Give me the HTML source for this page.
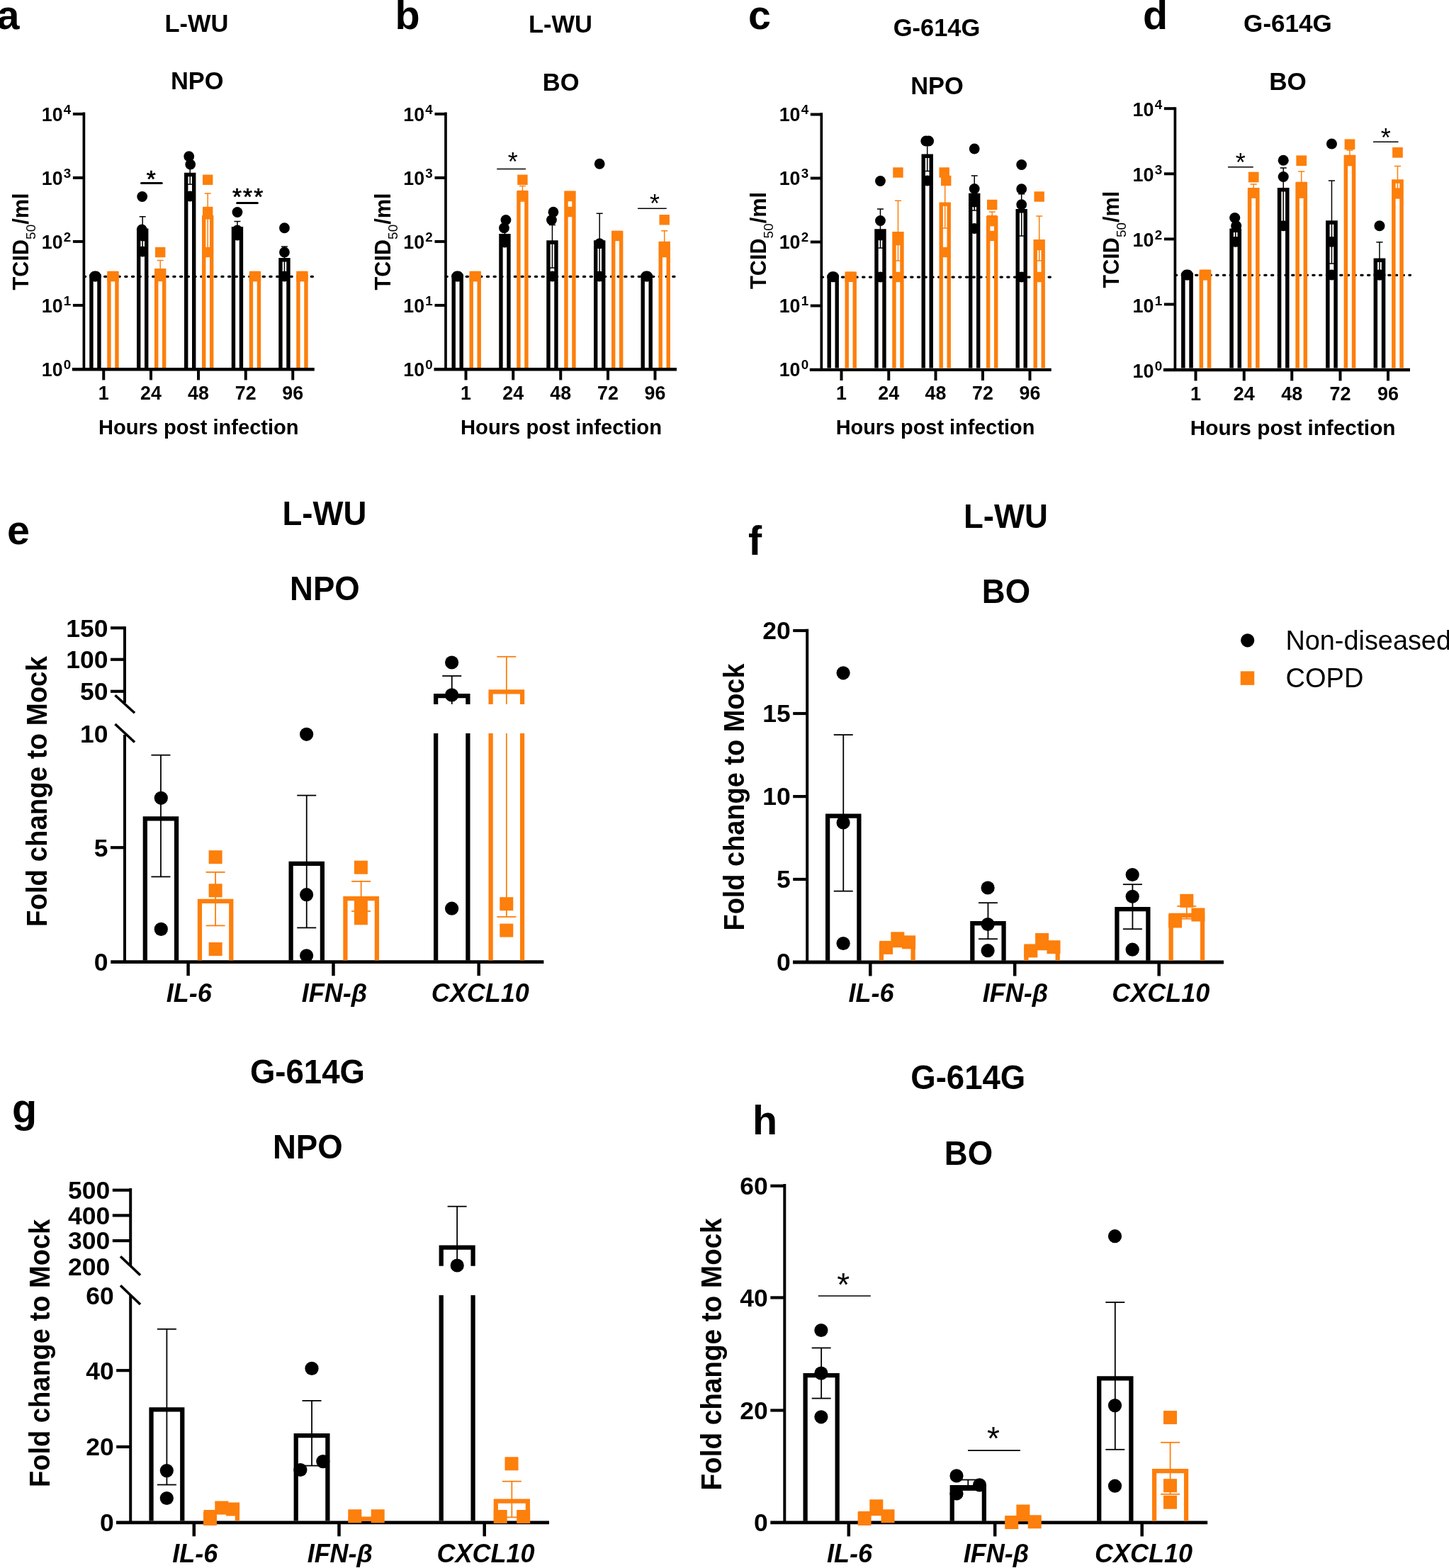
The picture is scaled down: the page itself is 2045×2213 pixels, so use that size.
<!DOCTYPE html>
<html lang="en"><head><meta charset="utf-8"><title>Figure</title>
<style>
html,body{margin:0;padding:0;background:#fff;}
body{width:2045px;height:2213px;overflow:hidden;}
svg{display:block;font-family:"Liberation Sans",sans-serif;fill:#000;}
</style></head><body>
<svg width="2045" height="2213" viewBox="0 0 2045 2213">
<rect x="0" y="0" width="2045" height="2213" fill="#fff"/>
<line x1="118.40" y1="390.30" x2="444.25" y2="390.30" stroke="#000" stroke-width="3.2" stroke-dasharray="2.3 7.42" stroke-linecap="round"/>
<line x1="118.40" y1="158.50" x2="118.40" y2="522.90" stroke="#000" stroke-width="3.7" />
<line x1="101.90" y1="521.30" x2="443.75" y2="521.30" stroke="#000" stroke-width="4.4" />
<line x1="102.90" y1="430.90" x2="118.40" y2="430.90" stroke="#000" stroke-width="4.0" />
<line x1="102.90" y1="340.90" x2="118.40" y2="340.90" stroke="#000" stroke-width="4.0" />
<line x1="102.90" y1="250.90" x2="118.40" y2="250.90" stroke="#000" stroke-width="4.0" />
<line x1="102.90" y1="160.90" x2="118.40" y2="160.90" stroke="#000" stroke-width="4.0" />
<line x1="146.25" y1="520.90" x2="146.25" y2="536.40" stroke="#000" stroke-width="4.0" />
<line x1="213.00" y1="520.90" x2="213.00" y2="536.40" stroke="#000" stroke-width="4.0" />
<line x1="280.00" y1="520.90" x2="280.00" y2="536.40" stroke="#000" stroke-width="4.0" />
<line x1="346.75" y1="520.90" x2="346.75" y2="536.40" stroke="#000" stroke-width="4.0" />
<line x1="413.25" y1="520.90" x2="413.25" y2="536.40" stroke="#000" stroke-width="4.0" />
<path d="M128.95 518.90V390.00H139.95V518.90" fill="none" stroke="#000" stroke-width="5.4" stroke-linejoin="miter"/>
<circle cx="133.45" cy="390.00" r="7.4" fill="#000"/>
<circle cx="135.45" cy="390.00" r="7.4" fill="#000"/>
<path d="M153.95 518.90V390.00H164.95V518.90" fill="none" stroke="#fd7f0c" stroke-width="5.4" stroke-linejoin="miter"/>
<rect x="151.25" y="382.80" width="14.40" height="14.40" fill="#fd7f0c"/>
<rect x="153.25" y="382.80" width="14.40" height="14.40" fill="#fd7f0c"/>
<path d="M195.70 518.90V325.20H206.70V518.90" fill="none" stroke="#000" stroke-width="5.4" stroke-linejoin="miter"/>
<line x1="201.20" y1="305.75" x2="201.20" y2="353.30" stroke="#000" stroke-width="1.5" />
<line x1="196.70" y1="305.75" x2="205.70" y2="305.75" stroke="#000" stroke-width="1.5" />
<line x1="196.70" y1="353.30" x2="205.70" y2="353.30" stroke="#000" stroke-width="1.5" />
<circle cx="201.20" cy="355.00" r="7.4" fill="#000"/>
<circle cx="201.70" cy="333.00" r="7.4" fill="#000"/>
<circle cx="200.20" cy="324.00" r="7.4" fill="#000"/>
<circle cx="200.70" cy="277.50" r="7.4" fill="#000"/>
<path d="M220.70 518.90V381.70H231.70V518.90" fill="none" stroke="#fd7f0c" stroke-width="5.4" stroke-linejoin="miter"/>
<line x1="226.20" y1="367.50" x2="226.20" y2="385.00" stroke="#fd7f0c" stroke-width="1.5" />
<line x1="221.70" y1="367.50" x2="230.70" y2="367.50" stroke="#fd7f0c" stroke-width="1.5" />
<line x1="221.70" y1="385.00" x2="230.70" y2="385.00" stroke="#fd7f0c" stroke-width="1.5" />
<rect x="219.00" y="382.80" width="14.40" height="14.40" fill="#fd7f0c"/>
<rect x="219.00" y="348.80" width="14.40" height="14.40" fill="#fd7f0c"/>
<path d="M262.70 518.90V246.45H273.70V518.90" fill="none" stroke="#000" stroke-width="5.4" stroke-linejoin="miter"/>
<line x1="268.20" y1="236.00" x2="268.20" y2="260.15" stroke="#000" stroke-width="1.5" />
<line x1="263.70" y1="236.00" x2="272.70" y2="236.00" stroke="#000" stroke-width="1.5" />
<line x1="263.70" y1="260.15" x2="272.70" y2="260.15" stroke="#000" stroke-width="1.5" />
<circle cx="268.20" cy="277.00" r="7.4" fill="#000"/>
<circle cx="268.70" cy="232.00" r="7.4" fill="#000"/>
<circle cx="266.70" cy="220.75" r="7.4" fill="#000"/>
<path d="M287.70 518.90V306.70H298.70V518.90" fill="none" stroke="#fd7f0c" stroke-width="5.4" stroke-linejoin="miter"/>
<line x1="293.20" y1="273.00" x2="293.20" y2="357.60" stroke="#fd7f0c" stroke-width="1.5" />
<line x1="288.70" y1="273.00" x2="297.70" y2="273.00" stroke="#fd7f0c" stroke-width="1.5" />
<line x1="288.70" y1="357.60" x2="297.70" y2="357.60" stroke="#fd7f0c" stroke-width="1.5" />
<rect x="286.00" y="348.80" width="14.40" height="14.40" fill="#fd7f0c"/>
<rect x="286.00" y="291.80" width="14.40" height="14.40" fill="#fd7f0c"/>
<rect x="286.00" y="246.55" width="14.40" height="14.40" fill="#fd7f0c"/>
<path d="M329.45 518.90V322.70H340.45V518.90" fill="none" stroke="#000" stroke-width="5.4" stroke-linejoin="miter"/>
<line x1="334.95" y1="312.50" x2="334.95" y2="336.00" stroke="#000" stroke-width="1.5" />
<line x1="330.45" y1="312.50" x2="339.45" y2="312.50" stroke="#000" stroke-width="1.5" />
<line x1="330.45" y1="336.00" x2="339.45" y2="336.00" stroke="#000" stroke-width="1.5" />
<circle cx="334.95" cy="332.00" r="7.4" fill="#000"/>
<circle cx="334.95" cy="325.00" r="7.4" fill="#000"/>
<circle cx="334.95" cy="299.50" r="7.4" fill="#000"/>
<path d="M354.45 518.90V390.00H365.45V518.90" fill="none" stroke="#fd7f0c" stroke-width="5.4" stroke-linejoin="miter"/>
<rect x="351.75" y="382.80" width="14.40" height="14.40" fill="#fd7f0c"/>
<rect x="353.75" y="382.80" width="14.40" height="14.40" fill="#fd7f0c"/>
<path d="M395.95 518.90V366.70H406.95V518.90" fill="none" stroke="#000" stroke-width="5.4" stroke-linejoin="miter"/>
<line x1="401.45" y1="348.00" x2="401.45" y2="393.60" stroke="#000" stroke-width="1.5" />
<line x1="396.95" y1="348.00" x2="405.95" y2="348.00" stroke="#000" stroke-width="1.5" />
<line x1="396.95" y1="393.60" x2="405.95" y2="393.60" stroke="#000" stroke-width="1.5" />
<circle cx="401.45" cy="390.00" r="7.4" fill="#000"/>
<circle cx="401.45" cy="356.00" r="7.4" fill="#000"/>
<circle cx="401.45" cy="321.75" r="7.4" fill="#000"/>
<path d="M420.95 518.90V390.00H431.95V518.90" fill="none" stroke="#fd7f0c" stroke-width="5.4" stroke-linejoin="miter"/>
<rect x="418.25" y="382.80" width="14.40" height="14.40" fill="#fd7f0c"/>
<rect x="420.25" y="382.80" width="14.40" height="14.40" fill="#fd7f0c"/>
<text x="100.20" y="530.50" font-size="26.8" text-anchor="end" font-weight="bold">10<tspan font-size="18.76" dx="1.2" dy="-9.80">0</tspan></text>
<text x="100.20" y="440.50" font-size="26.8" text-anchor="end" font-weight="bold">10<tspan font-size="18.76" dx="1.2" dy="-9.80">1</tspan></text>
<text x="100.20" y="350.50" font-size="26.8" text-anchor="end" font-weight="bold">10<tspan font-size="18.76" dx="1.2" dy="-9.80">2</tspan></text>
<text x="100.20" y="260.50" font-size="26.8" text-anchor="end" font-weight="bold">10<tspan font-size="18.76" dx="1.2" dy="-9.80">3</tspan></text>
<text x="100.20" y="170.50" font-size="26.8" text-anchor="end" font-weight="bold">10<tspan font-size="18.76" dx="1.2" dy="-9.80">4</tspan></text>
<text x="146.25" y="564.00" font-size="26.8" text-anchor="middle" font-weight="bold" font-style="normal" >1</text>
<text x="213.00" y="564.00" font-size="26.8" text-anchor="middle" font-weight="bold" font-style="normal" >24</text>
<text x="280.00" y="564.00" font-size="26.8" text-anchor="middle" font-weight="bold" font-style="normal" >48</text>
<text x="346.75" y="564.00" font-size="26.8" text-anchor="middle" font-weight="bold" font-style="normal" >72</text>
<text x="413.25" y="564.00" font-size="26.8" text-anchor="middle" font-weight="bold" font-style="normal" >96</text>
<text x="280.30" y="612.50" font-size="29.07" text-anchor="middle" font-weight="bold" font-style="normal" >Hours post infection</text>
<text transform="translate(40.00 409.50) rotate(-90)" font-size="30.7" font-weight="bold" text-anchor="start">TCID<tspan font-size="19.03" font-weight="normal" dy="10.13">50</tspan><tspan dy="-10.13">/ml</tspan></text>
<text transform="translate(277.50 45.00) scale(0.98 1)" font-size="35.2" text-anchor="middle" font-weight="bold">L-WU</text>
<text transform="translate(278.30 126.00) scale(0.98 1)" font-size="35.2" text-anchor="middle" font-weight="bold">NPO</text>
<text x="-4.50" y="41.00" font-size="57.5" text-anchor="start" font-weight="bold" font-style="normal" >a</text>
<line x1="199.50" y1="258.40" x2="228.30" y2="258.40" stroke="#000" stroke-width="3" stroke-linecap="round"/>
<text x="214.30" y="264.40" font-size="33.5" text-anchor="middle" font-weight="normal" font-style="normal" stroke="#000" stroke-width="0.7" letter-spacing="2.1">*</text>
<line x1="334.60" y1="286.60" x2="363.40" y2="286.60" stroke="#000" stroke-width="3" stroke-linecap="round"/>
<text x="350.60" y="289.30" font-size="33.5" text-anchor="middle" font-weight="normal" font-style="normal" stroke="#000" stroke-width="0.7" letter-spacing="2.1">***</text>
<line x1="629.00" y1="390.30" x2="955.50" y2="390.30" stroke="#000" stroke-width="3.2" stroke-dasharray="2.3 7.42" stroke-linecap="round"/>
<line x1="629.00" y1="158.50" x2="629.00" y2="522.90" stroke="#000" stroke-width="3.7" />
<line x1="612.50" y1="521.30" x2="955.00" y2="521.30" stroke="#000" stroke-width="4.4" />
<line x1="613.50" y1="430.90" x2="629.00" y2="430.90" stroke="#000" stroke-width="4.0" />
<line x1="613.50" y1="340.90" x2="629.00" y2="340.90" stroke="#000" stroke-width="4.0" />
<line x1="613.50" y1="250.90" x2="629.00" y2="250.90" stroke="#000" stroke-width="4.0" />
<line x1="613.50" y1="160.90" x2="629.00" y2="160.90" stroke="#000" stroke-width="4.0" />
<line x1="657.50" y1="520.90" x2="657.50" y2="536.40" stroke="#000" stroke-width="4.0" />
<line x1="724.25" y1="520.90" x2="724.25" y2="536.40" stroke="#000" stroke-width="4.0" />
<line x1="791.25" y1="520.90" x2="791.25" y2="536.40" stroke="#000" stroke-width="4.0" />
<line x1="858.00" y1="520.90" x2="858.00" y2="536.40" stroke="#000" stroke-width="4.0" />
<line x1="924.50" y1="520.90" x2="924.50" y2="536.40" stroke="#000" stroke-width="4.0" />
<path d="M640.20 518.90V390.00H651.20V518.90" fill="none" stroke="#000" stroke-width="5.4" stroke-linejoin="miter"/>
<circle cx="644.70" cy="390.00" r="7.4" fill="#000"/>
<circle cx="646.70" cy="390.00" r="7.4" fill="#000"/>
<path d="M665.20 518.90V390.00H676.20V518.90" fill="none" stroke="#fd7f0c" stroke-width="5.4" stroke-linejoin="miter"/>
<rect x="662.50" y="382.80" width="14.40" height="14.40" fill="#fd7f0c"/>
<rect x="664.50" y="382.80" width="14.40" height="14.40" fill="#fd7f0c"/>
<path d="M706.95 518.90V332.70H717.95V518.90" fill="none" stroke="#000" stroke-width="5.4" stroke-linejoin="miter"/>
<line x1="712.45" y1="322.00" x2="712.45" y2="346.80" stroke="#000" stroke-width="1.5" />
<line x1="707.95" y1="322.00" x2="716.95" y2="322.00" stroke="#000" stroke-width="1.5" />
<line x1="707.95" y1="346.80" x2="716.95" y2="346.80" stroke="#000" stroke-width="1.5" />
<circle cx="712.45" cy="342.00" r="7.4" fill="#000"/>
<circle cx="711.45" cy="321.75" r="7.4" fill="#000"/>
<circle cx="713.95" cy="310.50" r="7.4" fill="#000"/>
<path d="M731.95 518.90V271.95H742.95V518.90" fill="none" stroke="#fd7f0c" stroke-width="5.4" stroke-linejoin="miter"/>
<line x1="737.45" y1="262.50" x2="737.45" y2="284.05" stroke="#fd7f0c" stroke-width="1.5" />
<line x1="732.95" y1="262.50" x2="741.95" y2="262.50" stroke="#fd7f0c" stroke-width="1.5" />
<line x1="732.95" y1="284.05" x2="741.95" y2="284.05" stroke="#fd7f0c" stroke-width="1.5" />
<rect x="730.25" y="268.80" width="14.40" height="14.40" fill="#fd7f0c"/>
<rect x="730.25" y="246.55" width="14.40" height="14.40" fill="#fd7f0c"/>
<path d="M773.95 518.90V341.95H784.95V518.90" fill="none" stroke="#000" stroke-width="5.4" stroke-linejoin="miter"/>
<line x1="779.45" y1="317.50" x2="779.45" y2="378.05" stroke="#000" stroke-width="1.5" />
<line x1="774.95" y1="317.50" x2="783.95" y2="317.50" stroke="#000" stroke-width="1.5" />
<line x1="774.95" y1="378.05" x2="783.95" y2="378.05" stroke="#000" stroke-width="1.5" />
<circle cx="779.45" cy="390.00" r="7.4" fill="#000"/>
<circle cx="778.45" cy="310.50" r="7.4" fill="#000"/>
<circle cx="780.95" cy="299.25" r="7.4" fill="#000"/>
<path d="M798.95 518.90V272.20H809.95V518.90" fill="none" stroke="#fd7f0c" stroke-width="5.4" stroke-linejoin="miter"/>
<rect x="797.25" y="291.80" width="14.40" height="14.40" fill="#fd7f0c"/>
<rect x="797.25" y="269.80" width="14.40" height="14.40" fill="#fd7f0c"/>
<path d="M840.70 518.90V341.95H851.70V518.90" fill="none" stroke="#000" stroke-width="5.4" stroke-linejoin="miter"/>
<line x1="846.20" y1="301.25" x2="846.20" y2="384.00" stroke="#000" stroke-width="1.5" />
<line x1="841.70" y1="301.25" x2="850.70" y2="301.25" stroke="#000" stroke-width="1.5" />
<line x1="841.70" y1="384.00" x2="850.70" y2="384.00" stroke="#000" stroke-width="1.5" />
<circle cx="846.20" cy="390.00" r="7.4" fill="#000"/>
<circle cx="846.20" cy="343.75" r="7.4" fill="#000"/>
<circle cx="846.20" cy="231.25" r="7.4" fill="#000"/>
<path d="M865.70 518.90V328.45H876.70V518.90" fill="none" stroke="#fd7f0c" stroke-width="5.4" stroke-linejoin="miter"/>
<rect x="864.00" y="325.80" width="14.40" height="14.40" fill="#fd7f0c"/>
<path d="M907.20 518.90V390.00H918.20V518.90" fill="none" stroke="#000" stroke-width="5.4" stroke-linejoin="miter"/>
<circle cx="911.70" cy="390.00" r="7.4" fill="#000"/>
<circle cx="913.70" cy="390.00" r="7.4" fill="#000"/>
<path d="M932.20 518.90V343.45H943.20V518.90" fill="none" stroke="#fd7f0c" stroke-width="5.4" stroke-linejoin="miter"/>
<line x1="937.70" y1="325.75" x2="937.70" y2="352.00" stroke="#fd7f0c" stroke-width="1.5" />
<line x1="933.20" y1="325.75" x2="942.20" y2="325.75" stroke="#fd7f0c" stroke-width="1.5" />
<line x1="933.20" y1="352.00" x2="942.20" y2="352.00" stroke="#fd7f0c" stroke-width="1.5" />
<rect x="930.50" y="348.80" width="14.40" height="14.40" fill="#fd7f0c"/>
<rect x="930.50" y="342.80" width="14.40" height="14.40" fill="#fd7f0c"/>
<rect x="930.50" y="303.05" width="14.40" height="14.40" fill="#fd7f0c"/>
<text x="610.80" y="530.50" font-size="26.8" text-anchor="end" font-weight="bold">10<tspan font-size="18.76" dx="1.2" dy="-9.80">0</tspan></text>
<text x="610.80" y="440.50" font-size="26.8" text-anchor="end" font-weight="bold">10<tspan font-size="18.76" dx="1.2" dy="-9.80">1</tspan></text>
<text x="610.80" y="350.50" font-size="26.8" text-anchor="end" font-weight="bold">10<tspan font-size="18.76" dx="1.2" dy="-9.80">2</tspan></text>
<text x="610.80" y="260.50" font-size="26.8" text-anchor="end" font-weight="bold">10<tspan font-size="18.76" dx="1.2" dy="-9.80">3</tspan></text>
<text x="610.80" y="170.50" font-size="26.8" text-anchor="end" font-weight="bold">10<tspan font-size="18.76" dx="1.2" dy="-9.80">4</tspan></text>
<text x="657.50" y="564.00" font-size="26.8" text-anchor="middle" font-weight="bold" font-style="normal" >1</text>
<text x="724.25" y="564.00" font-size="26.8" text-anchor="middle" font-weight="bold" font-style="normal" >24</text>
<text x="791.25" y="564.00" font-size="26.8" text-anchor="middle" font-weight="bold" font-style="normal" >48</text>
<text x="858.00" y="564.00" font-size="26.8" text-anchor="middle" font-weight="bold" font-style="normal" >72</text>
<text x="924.50" y="564.00" font-size="26.8" text-anchor="middle" font-weight="bold" font-style="normal" >96</text>
<text x="792.00" y="612.50" font-size="29.23" text-anchor="middle" font-weight="bold" font-style="normal" >Hours post infection</text>
<text transform="translate(551.00 409.50) rotate(-90)" font-size="30.7" font-weight="bold" text-anchor="start">TCID<tspan font-size="19.03" font-weight="normal" dy="10.13">50</tspan><tspan dy="-10.13">/ml</tspan></text>
<text transform="translate(791.00 46.00) scale(0.98 1)" font-size="35.2" text-anchor="middle" font-weight="bold">L-WU</text>
<text transform="translate(791.70 128.00) scale(0.98 1)" font-size="35.2" text-anchor="middle" font-weight="bold">BO</text>
<text x="557.50" y="41.00" font-size="57.5" text-anchor="start" font-weight="bold" font-style="normal" >b</text>
<line x1="701.25" y1="238.50" x2="742.00" y2="238.50" stroke="#000" stroke-width="1.4" />
<text x="723.75" y="241.00" font-size="36" text-anchor="middle" font-weight="normal" font-style="normal" >*</text>
<line x1="900.00" y1="294.25" x2="940.75" y2="294.25" stroke="#000" stroke-width="1.4" />
<text x="924.00" y="300.00" font-size="36" text-anchor="middle" font-weight="normal" font-style="normal" >*</text>
<line x1="1159.30" y1="391.05" x2="1484.25" y2="391.05" stroke="#000" stroke-width="3.2" stroke-dasharray="2.3 7.42" stroke-linecap="round"/>
<line x1="1159.30" y1="159.30" x2="1159.30" y2="523.50" stroke="#000" stroke-width="3.7" />
<line x1="1142.80" y1="521.90" x2="1483.75" y2="521.90" stroke="#000" stroke-width="4.4" />
<line x1="1143.80" y1="431.50" x2="1159.30" y2="431.50" stroke="#000" stroke-width="4.0" />
<line x1="1143.80" y1="341.50" x2="1159.30" y2="341.50" stroke="#000" stroke-width="4.0" />
<line x1="1143.80" y1="251.50" x2="1159.30" y2="251.50" stroke="#000" stroke-width="4.0" />
<line x1="1143.80" y1="161.50" x2="1159.30" y2="161.50" stroke="#000" stroke-width="4.0" />
<line x1="1187.50" y1="521.50" x2="1187.50" y2="537.00" stroke="#000" stroke-width="4.0" />
<line x1="1254.25" y1="521.50" x2="1254.25" y2="537.00" stroke="#000" stroke-width="4.0" />
<line x1="1320.50" y1="521.50" x2="1320.50" y2="537.00" stroke="#000" stroke-width="4.0" />
<line x1="1387.00" y1="521.50" x2="1387.00" y2="537.00" stroke="#000" stroke-width="4.0" />
<line x1="1453.50" y1="521.50" x2="1453.50" y2="537.00" stroke="#000" stroke-width="4.0" />
<path d="M1170.20 519.50V390.75H1181.20V519.50" fill="none" stroke="#000" stroke-width="5.4" stroke-linejoin="miter"/>
<circle cx="1174.70" cy="390.75" r="7.4" fill="#000"/>
<circle cx="1176.70" cy="390.75" r="7.4" fill="#000"/>
<path d="M1195.20 519.50V390.75H1206.20V519.50" fill="none" stroke="#fd7f0c" stroke-width="5.4" stroke-linejoin="miter"/>
<rect x="1192.50" y="383.55" width="14.40" height="14.40" fill="#fd7f0c"/>
<rect x="1194.50" y="383.55" width="14.40" height="14.40" fill="#fd7f0c"/>
<path d="M1236.95 519.50V325.95H1247.95V519.50" fill="none" stroke="#000" stroke-width="5.4" stroke-linejoin="miter"/>
<line x1="1242.45" y1="295.00" x2="1242.45" y2="350.00" stroke="#000" stroke-width="1.5" />
<line x1="1237.95" y1="295.00" x2="1246.95" y2="295.00" stroke="#000" stroke-width="1.5" />
<line x1="1237.95" y1="350.00" x2="1246.95" y2="350.00" stroke="#000" stroke-width="1.5" />
<circle cx="1242.45" cy="391.00" r="7.4" fill="#000"/>
<circle cx="1242.45" cy="332.00" r="7.4" fill="#000"/>
<circle cx="1242.45" cy="311.50" r="7.4" fill="#000"/>
<circle cx="1242.45" cy="255.50" r="7.4" fill="#000"/>
<path d="M1261.95 519.50V329.70H1272.95V519.50" fill="none" stroke="#fd7f0c" stroke-width="5.4" stroke-linejoin="miter"/>
<line x1="1267.45" y1="283.25" x2="1267.45" y2="368.00" stroke="#fd7f0c" stroke-width="1.5" />
<line x1="1262.95" y1="283.25" x2="1271.95" y2="283.25" stroke="#fd7f0c" stroke-width="1.5" />
<line x1="1262.95" y1="368.00" x2="1271.95" y2="368.00" stroke="#fd7f0c" stroke-width="1.5" />
<rect x="1260.25" y="383.80" width="14.40" height="14.40" fill="#fd7f0c"/>
<rect x="1260.25" y="331.80" width="14.40" height="14.40" fill="#fd7f0c"/>
<rect x="1260.25" y="236.30" width="14.40" height="14.40" fill="#fd7f0c"/>
<path d="M1303.20 519.50V220.20H1314.20V519.50" fill="none" stroke="#000" stroke-width="5.4" stroke-linejoin="miter"/>
<line x1="1308.70" y1="205.00" x2="1308.70" y2="241.50" stroke="#000" stroke-width="1.5" />
<line x1="1304.20" y1="205.00" x2="1313.20" y2="205.00" stroke="#000" stroke-width="1.5" />
<line x1="1304.20" y1="241.50" x2="1313.20" y2="241.50" stroke="#000" stroke-width="1.5" />
<circle cx="1308.70" cy="255.00" r="7.4" fill="#000"/>
<circle cx="1306.70" cy="199.00" r="7.4" fill="#000"/>
<circle cx="1310.70" cy="199.00" r="7.4" fill="#000"/>
<path d="M1328.20 519.50V288.20H1339.20V519.50" fill="none" stroke="#fd7f0c" stroke-width="5.4" stroke-linejoin="miter"/>
<line x1="1333.70" y1="250.00" x2="1333.70" y2="322.00" stroke="#fd7f0c" stroke-width="1.5" />
<line x1="1329.20" y1="250.00" x2="1338.20" y2="250.00" stroke="#fd7f0c" stroke-width="1.5" />
<line x1="1329.20" y1="322.00" x2="1338.20" y2="322.00" stroke="#fd7f0c" stroke-width="1.5" />
<rect x="1326.50" y="348.80" width="14.40" height="14.40" fill="#fd7f0c"/>
<rect x="1328.00" y="247.80" width="14.40" height="14.40" fill="#fd7f0c"/>
<rect x="1325.50" y="236.30" width="14.40" height="14.40" fill="#fd7f0c"/>
<path d="M1369.70 519.50V275.45H1380.70V519.50" fill="none" stroke="#000" stroke-width="5.4" stroke-linejoin="miter"/>
<line x1="1375.20" y1="248.00" x2="1375.20" y2="297.00" stroke="#000" stroke-width="1.5" />
<line x1="1370.70" y1="248.00" x2="1379.70" y2="248.00" stroke="#000" stroke-width="1.5" />
<line x1="1370.70" y1="297.00" x2="1379.70" y2="297.00" stroke="#000" stroke-width="1.5" />
<circle cx="1375.20" cy="322.50" r="7.4" fill="#000"/>
<circle cx="1375.20" cy="285.00" r="7.4" fill="#000"/>
<circle cx="1375.20" cy="266.50" r="7.4" fill="#000"/>
<circle cx="1375.20" cy="210.00" r="7.4" fill="#000"/>
<path d="M1394.70 519.50V307.70H1405.70V519.50" fill="none" stroke="#fd7f0c" stroke-width="5.4" stroke-linejoin="miter"/>
<line x1="1400.20" y1="299.00" x2="1400.20" y2="318.60" stroke="#fd7f0c" stroke-width="1.5" />
<line x1="1395.70" y1="299.00" x2="1404.70" y2="299.00" stroke="#fd7f0c" stroke-width="1.5" />
<line x1="1395.70" y1="318.60" x2="1404.70" y2="318.60" stroke="#fd7f0c" stroke-width="1.5" />
<rect x="1393.00" y="325.80" width="14.40" height="14.40" fill="#fd7f0c"/>
<rect x="1393.00" y="303.80" width="14.40" height="14.40" fill="#fd7f0c"/>
<rect x="1393.00" y="281.80" width="14.40" height="14.40" fill="#fd7f0c"/>
<path d="M1436.20 519.50V297.70H1447.20V519.50" fill="none" stroke="#000" stroke-width="5.4" stroke-linejoin="miter"/>
<line x1="1441.70" y1="273.75" x2="1441.70" y2="333.00" stroke="#000" stroke-width="1.5" />
<line x1="1437.20" y1="273.75" x2="1446.20" y2="273.75" stroke="#000" stroke-width="1.5" />
<line x1="1437.20" y1="333.00" x2="1446.20" y2="333.00" stroke="#000" stroke-width="1.5" />
<circle cx="1441.70" cy="391.00" r="7.4" fill="#000"/>
<circle cx="1441.70" cy="288.75" r="7.4" fill="#000"/>
<circle cx="1441.70" cy="266.75" r="7.4" fill="#000"/>
<circle cx="1441.70" cy="232.50" r="7.4" fill="#000"/>
<path d="M1461.20 519.50V340.70H1472.20V519.50" fill="none" stroke="#fd7f0c" stroke-width="5.4" stroke-linejoin="miter"/>
<line x1="1466.70" y1="305.00" x2="1466.70" y2="368.00" stroke="#fd7f0c" stroke-width="1.5" />
<line x1="1462.20" y1="305.00" x2="1471.20" y2="305.00" stroke="#fd7f0c" stroke-width="1.5" />
<line x1="1462.20" y1="368.00" x2="1471.20" y2="368.00" stroke="#fd7f0c" stroke-width="1.5" />
<rect x="1459.50" y="383.80" width="14.40" height="14.40" fill="#fd7f0c"/>
<rect x="1459.50" y="338.80" width="14.40" height="14.40" fill="#fd7f0c"/>
<rect x="1459.50" y="270.30" width="14.40" height="14.40" fill="#fd7f0c"/>
<text x="1141.10" y="531.10" font-size="26.8" text-anchor="end" font-weight="bold">10<tspan font-size="18.76" dx="1.2" dy="-9.80">0</tspan></text>
<text x="1141.10" y="441.10" font-size="26.8" text-anchor="end" font-weight="bold">10<tspan font-size="18.76" dx="1.2" dy="-9.80">1</tspan></text>
<text x="1141.10" y="351.10" font-size="26.8" text-anchor="end" font-weight="bold">10<tspan font-size="18.76" dx="1.2" dy="-9.80">2</tspan></text>
<text x="1141.10" y="261.10" font-size="26.8" text-anchor="end" font-weight="bold">10<tspan font-size="18.76" dx="1.2" dy="-9.80">3</tspan></text>
<text x="1141.10" y="171.10" font-size="26.8" text-anchor="end" font-weight="bold">10<tspan font-size="18.76" dx="1.2" dy="-9.80">4</tspan></text>
<text x="1187.50" y="564.00" font-size="26.8" text-anchor="middle" font-weight="bold" font-style="normal" >1</text>
<text x="1254.25" y="564.00" font-size="26.8" text-anchor="middle" font-weight="bold" font-style="normal" >24</text>
<text x="1320.50" y="564.00" font-size="26.8" text-anchor="middle" font-weight="bold" font-style="normal" >48</text>
<text x="1387.00" y="564.00" font-size="26.8" text-anchor="middle" font-weight="bold" font-style="normal" >72</text>
<text x="1453.50" y="564.00" font-size="26.8" text-anchor="middle" font-weight="bold" font-style="normal" >96</text>
<text x="1320.00" y="612.50" font-size="28.86" text-anchor="middle" font-weight="bold" font-style="normal" >Hours post infection</text>
<text transform="translate(1080.50 408.00) rotate(-90)" font-size="30.7" font-weight="bold" text-anchor="start">TCID<tspan font-size="19.03" font-weight="normal" dy="10.13">50</tspan><tspan dy="-10.13">/ml</tspan></text>
<text transform="translate(1322.00 51.00) scale(0.98 1)" font-size="35.2" text-anchor="middle" font-weight="bold">G-614G</text>
<text transform="translate(1322.50 132.50) scale(0.98 1)" font-size="35.2" text-anchor="middle" font-weight="bold">NPO</text>
<text x="1056.00" y="41.00" font-size="57.5" text-anchor="start" font-weight="bold" font-style="normal" >c</text>
<line x1="1658.40" y1="388.30" x2="1990.50" y2="388.30" stroke="#000" stroke-width="3.2" stroke-dasharray="2.3 7.42" stroke-linecap="round"/>
<line x1="1658.40" y1="151.30" x2="1658.40" y2="523.60" stroke="#000" stroke-width="3.7" />
<line x1="1641.90" y1="522.00" x2="1990.00" y2="522.00" stroke="#000" stroke-width="4.4" />
<line x1="1642.90" y1="429.50" x2="1658.40" y2="429.50" stroke="#000" stroke-width="4.0" />
<line x1="1642.90" y1="337.40" x2="1658.40" y2="337.40" stroke="#000" stroke-width="4.0" />
<line x1="1642.90" y1="245.30" x2="1658.40" y2="245.30" stroke="#000" stroke-width="4.0" />
<line x1="1642.90" y1="153.20" x2="1658.40" y2="153.20" stroke="#000" stroke-width="4.0" />
<line x1="1687.50" y1="521.60" x2="1687.50" y2="537.41" stroke="#000" stroke-width="4.0" />
<line x1="1755.75" y1="521.60" x2="1755.75" y2="537.41" stroke="#000" stroke-width="4.0" />
<line x1="1823.25" y1="521.60" x2="1823.25" y2="537.41" stroke="#000" stroke-width="4.0" />
<line x1="1891.50" y1="521.60" x2="1891.50" y2="537.41" stroke="#000" stroke-width="4.0" />
<line x1="1959.00" y1="521.60" x2="1959.00" y2="537.41" stroke="#000" stroke-width="4.0" />
<path d="M1669.85 519.60V388.00H1681.07V519.60" fill="none" stroke="#000" stroke-width="5.508000000000001" stroke-linejoin="miter"/>
<circle cx="1674.46" cy="388.00" r="7.548000000000001" fill="#000"/>
<circle cx="1676.46" cy="388.00" r="7.548000000000001" fill="#000"/>
<path d="M1695.35 519.60V388.00H1706.57V519.60" fill="none" stroke="#fd7f0c" stroke-width="5.508000000000001" stroke-linejoin="miter"/>
<rect x="1692.62" y="380.66" width="14.69" height="14.69" fill="#fd7f0c"/>
<rect x="1694.62" y="380.66" width="14.69" height="14.69" fill="#fd7f0c"/>
<path d="M1738.10 519.60V325.25H1749.32V519.60" fill="none" stroke="#000" stroke-width="5.508000000000001" stroke-linejoin="miter"/>
<line x1="1743.71" y1="316.00" x2="1743.71" y2="336.90" stroke="#000" stroke-width="1.5" />
<line x1="1739.12" y1="316.00" x2="1748.30" y2="316.00" stroke="#000" stroke-width="1.5" />
<line x1="1739.12" y1="336.90" x2="1748.30" y2="336.90" stroke="#000" stroke-width="1.5" />
<circle cx="1743.71" cy="341.25" r="7.548000000000001" fill="#000"/>
<circle cx="1744.71" cy="318.75" r="7.548000000000001" fill="#000"/>
<circle cx="1742.71" cy="307.50" r="7.548000000000001" fill="#000"/>
<path d="M1763.60 519.60V267.75H1774.82V519.60" fill="none" stroke="#fd7f0c" stroke-width="5.508000000000001" stroke-linejoin="miter"/>
<line x1="1769.21" y1="260.00" x2="1769.21" y2="277.00" stroke="#fd7f0c" stroke-width="1.5" />
<line x1="1764.62" y1="260.00" x2="1773.80" y2="260.00" stroke="#fd7f0c" stroke-width="1.5" />
<line x1="1764.62" y1="277.00" x2="1773.80" y2="277.00" stroke="#fd7f0c" stroke-width="1.5" />
<rect x="1761.87" y="265.16" width="14.69" height="14.69" fill="#fd7f0c"/>
<rect x="1761.87" y="242.66" width="14.69" height="14.69" fill="#fd7f0c"/>
<path d="M1805.60 519.60V267.75H1816.82V519.60" fill="none" stroke="#000" stroke-width="5.508000000000001" stroke-linejoin="miter"/>
<line x1="1811.21" y1="237.00" x2="1811.21" y2="313.80" stroke="#000" stroke-width="1.5" />
<line x1="1806.62" y1="237.00" x2="1815.80" y2="237.00" stroke="#000" stroke-width="1.5" />
<line x1="1806.62" y1="313.80" x2="1815.80" y2="313.80" stroke="#000" stroke-width="1.5" />
<circle cx="1811.21" cy="318.75" r="7.548000000000001" fill="#000"/>
<circle cx="1811.21" cy="249.50" r="7.548000000000001" fill="#000"/>
<circle cx="1811.21" cy="226.25" r="7.548000000000001" fill="#000"/>
<path d="M1831.10 519.60V259.75H1842.32V519.60" fill="none" stroke="#fd7f0c" stroke-width="5.508000000000001" stroke-linejoin="miter"/>
<line x1="1836.71" y1="242.00" x2="1836.71" y2="266.00" stroke="#fd7f0c" stroke-width="1.5" />
<line x1="1832.12" y1="242.00" x2="1841.30" y2="242.00" stroke="#fd7f0c" stroke-width="1.5" />
<line x1="1832.12" y1="266.00" x2="1841.30" y2="266.00" stroke="#fd7f0c" stroke-width="1.5" />
<rect x="1829.37" y="265.16" width="14.69" height="14.69" fill="#fd7f0c"/>
<rect x="1829.37" y="256.66" width="14.69" height="14.69" fill="#fd7f0c"/>
<rect x="1829.37" y="219.41" width="14.69" height="14.69" fill="#fd7f0c"/>
<path d="M1873.85 519.60V314.00H1885.07V519.60" fill="none" stroke="#000" stroke-width="5.508000000000001" stroke-linejoin="miter"/>
<line x1="1879.46" y1="255.00" x2="1879.46" y2="372.00" stroke="#000" stroke-width="1.5" />
<line x1="1874.87" y1="255.00" x2="1884.05" y2="255.00" stroke="#000" stroke-width="1.5" />
<line x1="1874.87" y1="372.00" x2="1884.05" y2="372.00" stroke="#000" stroke-width="1.5" />
<circle cx="1879.46" cy="388.00" r="7.548000000000001" fill="#000"/>
<circle cx="1879.46" cy="341.25" r="7.548000000000001" fill="#000"/>
<circle cx="1879.46" cy="203.00" r="7.548000000000001" fill="#000"/>
<path d="M1899.35 519.60V221.50H1910.57V519.60" fill="none" stroke="#fd7f0c" stroke-width="5.508000000000001" stroke-linejoin="miter"/>
<line x1="1904.96" y1="212.00" x2="1904.96" y2="233.55" stroke="#fd7f0c" stroke-width="1.5" />
<line x1="1900.37" y1="212.00" x2="1909.55" y2="212.00" stroke="#fd7f0c" stroke-width="1.5" />
<line x1="1900.37" y1="233.55" x2="1909.55" y2="233.55" stroke="#fd7f0c" stroke-width="1.5" />
<rect x="1897.62" y="218.91" width="14.69" height="14.69" fill="#fd7f0c"/>
<rect x="1897.62" y="196.41" width="14.69" height="14.69" fill="#fd7f0c"/>
<path d="M1941.35 519.60V367.25H1952.57V519.60" fill="none" stroke="#000" stroke-width="5.508000000000001" stroke-linejoin="miter"/>
<line x1="1946.96" y1="341.75" x2="1946.96" y2="384.00" stroke="#000" stroke-width="1.5" />
<line x1="1942.37" y1="341.75" x2="1951.55" y2="341.75" stroke="#000" stroke-width="1.5" />
<line x1="1942.37" y1="384.00" x2="1951.55" y2="384.00" stroke="#000" stroke-width="1.5" />
<circle cx="1945.96" cy="388.00" r="7.548000000000001" fill="#000"/>
<circle cx="1947.96" cy="388.00" r="7.548000000000001" fill="#000"/>
<circle cx="1946.96" cy="318.75" r="7.548000000000001" fill="#000"/>
<path d="M1966.85 519.60V256.00H1978.07V519.60" fill="none" stroke="#fd7f0c" stroke-width="5.508000000000001" stroke-linejoin="miter"/>
<line x1="1972.46" y1="234.50" x2="1972.46" y2="268.00" stroke="#fd7f0c" stroke-width="1.5" />
<line x1="1967.87" y1="234.50" x2="1977.05" y2="234.50" stroke="#fd7f0c" stroke-width="1.5" />
<line x1="1967.87" y1="268.00" x2="1977.05" y2="268.00" stroke="#fd7f0c" stroke-width="1.5" />
<rect x="1965.12" y="265.66" width="14.69" height="14.69" fill="#fd7f0c"/>
<rect x="1965.12" y="265.66" width="14.69" height="14.69" fill="#fd7f0c"/>
<rect x="1965.12" y="207.91" width="14.69" height="14.69" fill="#fd7f0c"/>
<text x="1640.20" y="532.69" font-size="27" text-anchor="end" font-weight="bold">10<tspan font-size="18.90" dx="1.2" dy="-10.00">0</tspan></text>
<text x="1640.20" y="440.59" font-size="27" text-anchor="end" font-weight="bold">10<tspan font-size="18.90" dx="1.2" dy="-10.00">1</tspan></text>
<text x="1640.20" y="348.49" font-size="27" text-anchor="end" font-weight="bold">10<tspan font-size="18.90" dx="1.2" dy="-10.00">2</tspan></text>
<text x="1640.20" y="256.39" font-size="27" text-anchor="end" font-weight="bold">10<tspan font-size="18.90" dx="1.2" dy="-10.00">3</tspan></text>
<text x="1640.20" y="164.29" font-size="27" text-anchor="end" font-weight="bold">10<tspan font-size="18.90" dx="1.2" dy="-10.00">4</tspan></text>
<text x="1687.50" y="565.00" font-size="27" text-anchor="middle" font-weight="bold" font-style="normal" >1</text>
<text x="1755.75" y="565.00" font-size="27" text-anchor="middle" font-weight="bold" font-style="normal" >24</text>
<text x="1823.25" y="565.00" font-size="27" text-anchor="middle" font-weight="bold" font-style="normal" >48</text>
<text x="1891.50" y="565.00" font-size="27" text-anchor="middle" font-weight="bold" font-style="normal" >72</text>
<text x="1959.00" y="565.00" font-size="27" text-anchor="middle" font-weight="bold" font-style="normal" >96</text>
<text x="1824.70" y="614.00" font-size="29.8" text-anchor="middle" font-weight="bold" font-style="normal" >Hours post infection</text>
<text transform="translate(1578.50 406.50) rotate(-90)" font-size="30.6" font-weight="bold" text-anchor="start">TCID<tspan font-size="18.97" font-weight="normal" dy="10.10">50</tspan><tspan dy="-10.10">/ml</tspan></text>
<text transform="translate(1817.50 44.50) scale(0.98 1)" font-size="35.8" text-anchor="middle" font-weight="bold">G-614G</text>
<text transform="translate(1817.50 127.00) scale(0.98 1)" font-size="35.8" text-anchor="middle" font-weight="bold">BO</text>
<text x="1613.00" y="41.00" font-size="57.5" text-anchor="start" font-weight="bold" font-style="normal" >d</text>
<line x1="1733.00" y1="235.75" x2="1768.75" y2="235.75" stroke="#000" stroke-width="1.4" />
<text x="1750.75" y="242.00" font-size="36" text-anchor="middle" font-weight="normal" font-style="normal" >*</text>
<line x1="1938.00" y1="200.25" x2="1973.50" y2="200.25" stroke="#000" stroke-width="1.4" />
<text x="1955.75" y="206.50" font-size="36" text-anchor="middle" font-weight="normal" font-style="normal" >*</text>
<line x1="156.30" y1="1357.70" x2="767.40" y2="1357.70" stroke="#000" stroke-width="4.8" />
<line x1="176.00" y1="884.20" x2="176.00" y2="992.00" stroke="#000" stroke-width="4.0" />
<line x1="176.00" y1="1037.00" x2="176.00" y2="1357.70" stroke="#000" stroke-width="4.0" />
<line x1="156.00" y1="1196.20" x2="176.00" y2="1196.20" stroke="#000" stroke-width="4.2" />
<line x1="156.00" y1="975.75" x2="176.00" y2="975.75" stroke="#000" stroke-width="4.2" />
<line x1="156.00" y1="930.75" x2="176.00" y2="930.75" stroke="#000" stroke-width="4.2" />
<line x1="156.00" y1="886.25" x2="176.00" y2="886.25" stroke="#000" stroke-width="4.2" />
<line x1="162.50" y1="981.25" x2="190.00" y2="1006.25" stroke="#000" stroke-width="3.6" />
<line x1="162.50" y1="1022.00" x2="190.00" y2="1047.50" stroke="#000" stroke-width="3.6" />
<line x1="265.60" y1="1357.70" x2="265.60" y2="1377.20" stroke="#000" stroke-width="4.5" />
<line x1="470.50" y1="1357.70" x2="470.50" y2="1377.20" stroke="#000" stroke-width="4.5" />
<line x1="675.70" y1="1357.70" x2="675.70" y2="1377.20" stroke="#000" stroke-width="4.5" />
<path d="M204.82 1355.45V1155.42H249.07V1355.45" fill="none" stroke="#000" stroke-width="6.25" stroke-linejoin="miter"/>
<line x1="226.95" y1="1065.70" x2="226.95" y2="1237.40" stroke="#000" stroke-width="1.8" />
<line x1="213.45" y1="1065.70" x2="240.45" y2="1065.70" stroke="#000" stroke-width="1.8" />
<line x1="213.45" y1="1237.40" x2="240.45" y2="1237.40" stroke="#000" stroke-width="1.8" />
<circle cx="227.30" cy="1126.30" r="9.6" fill="#000"/>
<circle cx="227.30" cy="1311.40" r="9.6" fill="#000"/>
<path d="M281.93 1355.45V1271.83H326.27V1355.45" fill="none" stroke="#fd7f0c" stroke-width="6.25" stroke-linejoin="miter"/>
<line x1="304.10" y1="1230.90" x2="304.10" y2="1306.40" stroke="#fd7f0c" stroke-width="1.8" />
<line x1="290.60" y1="1230.90" x2="317.60" y2="1230.90" stroke="#fd7f0c" stroke-width="1.8" />
<line x1="290.60" y1="1306.40" x2="317.60" y2="1306.40" stroke="#fd7f0c" stroke-width="1.8" />
<rect x="294.60" y="1200.20" width="19.00" height="19.00" fill="#fd7f0c"/>
<rect x="294.60" y="1247.30" width="19.00" height="19.00" fill="#fd7f0c"/>
<rect x="294.60" y="1330.00" width="19.00" height="19.00" fill="#fd7f0c"/>
<path d="M410.62 1355.45V1218.83H454.88V1355.45" fill="none" stroke="#000" stroke-width="6.25" stroke-linejoin="miter"/>
<line x1="432.75" y1="1122.60" x2="432.75" y2="1309.40" stroke="#000" stroke-width="1.8" />
<line x1="419.25" y1="1122.60" x2="446.25" y2="1122.60" stroke="#000" stroke-width="1.8" />
<line x1="419.25" y1="1309.40" x2="446.25" y2="1309.40" stroke="#000" stroke-width="1.8" />
<circle cx="432.60" cy="1036.30" r="9.6" fill="#000"/>
<circle cx="432.60" cy="1262.70" r="9.6" fill="#000"/>
<circle cx="432.60" cy="1348.80" r="9.6" fill="#000"/>
<path d="M487.43 1355.45V1268.12H531.88V1355.45" fill="none" stroke="#fd7f0c" stroke-width="6.25" stroke-linejoin="miter"/>
<line x1="509.65" y1="1243.90" x2="509.65" y2="1286.00" stroke="#fd7f0c" stroke-width="1.8" />
<line x1="496.15" y1="1243.90" x2="523.15" y2="1243.90" stroke="#fd7f0c" stroke-width="1.8" />
<line x1="496.15" y1="1286.00" x2="523.15" y2="1286.00" stroke="#fd7f0c" stroke-width="1.8" />
<rect x="499.90" y="1214.70" width="19.00" height="19.00" fill="#fd7f0c"/>
<rect x="499.90" y="1267.30" width="19.00" height="19.00" fill="#fd7f0c"/>
<rect x="499.90" y="1286.30" width="19.00" height="19.00" fill="#fd7f0c"/>
<path d="M615.12 993.90V982.23H660.38V993.90" fill="none" stroke="#000" stroke-width="6.25" stroke-linejoin="miter"/>
<line x1="615.12" y1="1035.00" x2="615.12" y2="1355.45" stroke="#000" stroke-width="6.25" />
<line x1="660.38" y1="1035.00" x2="660.38" y2="1355.45" stroke="#000" stroke-width="6.25" />
<line x1="637.75" y1="954.00" x2="637.75" y2="993.90" stroke="#000" stroke-width="1.8" />
<line x1="624.25" y1="954.00" x2="651.25" y2="954.00" stroke="#000" stroke-width="1.8" />
<circle cx="637.60" cy="935.00" r="9.6" fill="#000"/>
<circle cx="637.60" cy="980.90" r="9.6" fill="#000"/>
<circle cx="637.60" cy="1282.20" r="9.6" fill="#000"/>
<path d="M692.62 993.90V976.42H737.08V993.90" fill="none" stroke="#fd7f0c" stroke-width="6.25" stroke-linejoin="miter"/>
<line x1="692.62" y1="1035.00" x2="692.62" y2="1355.45" stroke="#fd7f0c" stroke-width="6.25" />
<line x1="737.08" y1="1035.00" x2="737.08" y2="1355.45" stroke="#fd7f0c" stroke-width="6.25" />
<line x1="714.85" y1="926.80" x2="714.85" y2="993.90" stroke="#fd7f0c" stroke-width="1.8" />
<line x1="701.35" y1="926.80" x2="728.35" y2="926.80" stroke="#fd7f0c" stroke-width="1.8" />
<line x1="714.85" y1="1035.00" x2="714.85" y2="1294.00" stroke="#fd7f0c" stroke-width="1.8" />
<line x1="701.35" y1="1294.00" x2="728.35" y2="1294.00" stroke="#fd7f0c" stroke-width="1.8" />
<rect x="705.30" y="1266.20" width="19.00" height="19.00" fill="#fd7f0c"/>
<rect x="705.30" y="1303.60" width="19.00" height="19.00" fill="#fd7f0c"/>
<text x="152.50" y="1370.00" font-size="35.5" text-anchor="end" font-weight="bold" font-style="normal" >0</text>
<text x="152.50" y="1208.50" font-size="35.5" text-anchor="end" font-weight="bold" font-style="normal" >5</text>
<text x="152.50" y="1047.80" font-size="35.5" text-anchor="end" font-weight="bold" font-style="normal" >10</text>
<text x="152.50" y="988.05" font-size="35.5" text-anchor="end" font-weight="bold" font-style="normal" >50</text>
<text x="152.50" y="943.05" font-size="35.5" text-anchor="end" font-weight="bold" font-style="normal" >100</text>
<text x="152.50" y="898.55" font-size="35.5" text-anchor="end" font-weight="bold" font-style="normal" >150</text>
<text x="266.75" y="1413.50" font-size="36" text-anchor="middle" font-weight="bold" font-style="italic" >IL-6</text>
<text x="472.00" y="1413.50" font-size="36" text-anchor="middle" font-weight="bold" font-style="italic" >IFN-β</text>
<text x="677.85" y="1413.50" font-size="36" text-anchor="middle" font-weight="bold" font-style="italic" >CXCL10</text>
<text transform="translate(65.60 1308.00) rotate(-90) scale(0.965 1)" font-size="39.8" font-weight="bold" text-anchor="start">Fold change to Mock</text>
<text transform="translate(457.90 741.00) scale(0.965 1)" font-size="47.2" text-anchor="middle" font-weight="bold">L-WU</text>
<text transform="translate(458.45 847.00) scale(0.965 1)" font-size="47.2" text-anchor="middle" font-weight="bold">NPO</text>
<text x="10.00" y="768.00" font-size="57.5" text-anchor="start" font-weight="bold" font-style="normal" >e</text>
<line x1="1119.00" y1="1358.00" x2="1727.00" y2="1358.00" stroke="#000" stroke-width="4.8" />
<line x1="1139.20" y1="887.80" x2="1139.20" y2="1358.00" stroke="#000" stroke-width="4.0" />
<line x1="1119.20" y1="1241.00" x2="1139.20" y2="1241.00" stroke="#000" stroke-width="4.2" />
<line x1="1119.20" y1="1124.10" x2="1139.20" y2="1124.10" stroke="#000" stroke-width="4.2" />
<line x1="1119.20" y1="1007.00" x2="1139.20" y2="1007.00" stroke="#000" stroke-width="4.2" />
<line x1="1119.20" y1="890.00" x2="1139.20" y2="890.00" stroke="#000" stroke-width="4.2" />
<line x1="1228.30" y1="1358.00" x2="1228.30" y2="1377.50" stroke="#000" stroke-width="4.5" />
<line x1="1432.20" y1="1358.00" x2="1432.20" y2="1377.50" stroke="#000" stroke-width="4.5" />
<line x1="1635.70" y1="1358.00" x2="1635.70" y2="1377.50" stroke="#000" stroke-width="4.5" />
<path d="M1168.12 1355.75V1151.62H1212.38V1355.75" fill="none" stroke="#000" stroke-width="6.25" stroke-linejoin="miter"/>
<line x1="1190.25" y1="1037.10" x2="1190.25" y2="1257.70" stroke="#000" stroke-width="1.8" />
<line x1="1176.75" y1="1037.10" x2="1203.75" y2="1037.10" stroke="#000" stroke-width="1.8" />
<line x1="1176.75" y1="1257.70" x2="1203.75" y2="1257.70" stroke="#000" stroke-width="1.8" />
<circle cx="1190.10" cy="949.80" r="9.6" fill="#000"/>
<circle cx="1190.10" cy="1161.00" r="9.6" fill="#000"/>
<circle cx="1190.10" cy="1331.50" r="9.6" fill="#000"/>
<path d="M1243.92 1355.75V1334.12H1288.58V1355.75" fill="none" stroke="#fd7f0c" stroke-width="6.25" stroke-linejoin="miter"/>
<rect x="1241.10" y="1327.90" width="19.00" height="19.00" fill="#fd7f0c"/>
<rect x="1257.30" y="1315.30" width="19.00" height="19.00" fill="#fd7f0c"/>
<rect x="1273.10" y="1320.30" width="19.00" height="19.00" fill="#fd7f0c"/>
<path d="M1372.33 1355.75V1303.03H1416.58V1355.75" fill="none" stroke="#000" stroke-width="6.25" stroke-linejoin="miter"/>
<line x1="1394.45" y1="1274.20" x2="1394.45" y2="1325.20" stroke="#000" stroke-width="1.8" />
<line x1="1380.95" y1="1274.20" x2="1407.95" y2="1274.20" stroke="#000" stroke-width="1.8" />
<line x1="1380.95" y1="1325.20" x2="1407.95" y2="1325.20" stroke="#000" stroke-width="1.8" />
<circle cx="1394.10" cy="1253.00" r="9.6" fill="#000"/>
<circle cx="1394.10" cy="1304.50" r="9.6" fill="#000"/>
<circle cx="1394.10" cy="1341.70" r="9.6" fill="#000"/>
<path d="M1448.33 1355.75V1338.12H1492.67V1355.75" fill="none" stroke="#fd7f0c" stroke-width="6.25" stroke-linejoin="miter"/>
<rect x="1445.30" y="1332.40" width="19.00" height="19.00" fill="#fd7f0c"/>
<rect x="1461.10" y="1317.00" width="19.00" height="19.00" fill="#fd7f0c"/>
<rect x="1477.50" y="1327.20" width="19.00" height="19.00" fill="#fd7f0c"/>
<path d="M1576.42 1355.75V1283.12H1620.38V1355.75" fill="none" stroke="#000" stroke-width="6.25" stroke-linejoin="miter"/>
<line x1="1598.40" y1="1248.20" x2="1598.40" y2="1311.20" stroke="#000" stroke-width="1.8" />
<line x1="1584.90" y1="1248.20" x2="1611.90" y2="1248.20" stroke="#000" stroke-width="1.8" />
<line x1="1584.90" y1="1311.20" x2="1611.90" y2="1311.20" stroke="#000" stroke-width="1.8" />
<circle cx="1598.20" cy="1234.50" r="9.6" fill="#000"/>
<circle cx="1598.20" cy="1265.30" r="9.6" fill="#000"/>
<circle cx="1598.20" cy="1340.20" r="9.6" fill="#000"/>
<path d="M1652.62 1355.75V1291.83H1697.08V1355.75" fill="none" stroke="#fd7f0c" stroke-width="6.25" stroke-linejoin="miter"/>
<line x1="1674.85" y1="1279.00" x2="1674.85" y2="1296.70" stroke="#fd7f0c" stroke-width="1.8" />
<line x1="1661.35" y1="1279.00" x2="1688.35" y2="1279.00" stroke="#fd7f0c" stroke-width="1.8" />
<line x1="1661.35" y1="1296.70" x2="1688.35" y2="1296.70" stroke="#fd7f0c" stroke-width="1.8" />
<rect x="1665.30" y="1261.80" width="19.00" height="19.00" fill="#fd7f0c"/>
<rect x="1649.10" y="1290.50" width="19.00" height="19.00" fill="#fd7f0c"/>
<rect x="1681.40" y="1281.50" width="19.00" height="19.00" fill="#fd7f0c"/>
<text x="1115.70" y="1370.30" font-size="35.5" text-anchor="end" font-weight="bold" font-style="normal" >0</text>
<text x="1115.70" y="1253.30" font-size="35.5" text-anchor="end" font-weight="bold" font-style="normal" >5</text>
<text x="1115.70" y="1136.40" font-size="35.5" text-anchor="end" font-weight="bold" font-style="normal" >10</text>
<text x="1115.70" y="1019.30" font-size="35.5" text-anchor="end" font-weight="bold" font-style="normal" >15</text>
<text x="1115.70" y="902.30" font-size="35.5" text-anchor="end" font-weight="bold" font-style="normal" >20</text>
<text x="1229.50" y="1414.20" font-size="36" text-anchor="middle" font-weight="bold" font-style="italic" >IL-6</text>
<text x="1433.00" y="1414.20" font-size="36" text-anchor="middle" font-weight="bold" font-style="italic" >IFN-β</text>
<text x="1638.20" y="1414.20" font-size="36" text-anchor="middle" font-weight="bold" font-style="italic" >CXCL10</text>
<text transform="translate(1050.40 1313.50) rotate(-90) scale(0.953 1)" font-size="39.8" font-weight="bold" text-anchor="start">Fold change to Mock</text>
<text transform="translate(1419.35 745.00) scale(0.965 1)" font-size="47.2" text-anchor="middle" font-weight="bold">L-WU</text>
<text transform="translate(1420.00 850.50) scale(0.965 1)" font-size="47.2" text-anchor="middle" font-weight="bold">BO</text>
<text x="1056.00" y="782.80" font-size="57.5" text-anchor="start" font-weight="bold" font-style="normal" >f</text>
<line x1="164.00" y1="2148.80" x2="775.00" y2="2148.80" stroke="#000" stroke-width="4.8" />
<line x1="184.20" y1="1677.10" x2="184.20" y2="1786.50" stroke="#000" stroke-width="4.0" />
<line x1="184.20" y1="1828.00" x2="184.20" y2="2148.80" stroke="#000" stroke-width="4.0" />
<line x1="164.20" y1="2042.00" x2="184.20" y2="2042.00" stroke="#000" stroke-width="4.2" />
<line x1="164.20" y1="1934.20" x2="184.20" y2="1934.20" stroke="#000" stroke-width="4.2" />
<line x1="158.80" y1="1751.10" x2="184.20" y2="1751.10" stroke="#000" stroke-width="4.2" />
<line x1="158.80" y1="1715.40" x2="184.20" y2="1715.40" stroke="#000" stroke-width="4.2" />
<line x1="158.80" y1="1679.70" x2="184.20" y2="1679.70" stroke="#000" stroke-width="4.2" />
<line x1="170.00" y1="1773.20" x2="198.00" y2="1799.80" stroke="#000" stroke-width="3.6" />
<line x1="170.00" y1="1814.30" x2="198.00" y2="1841.00" stroke="#000" stroke-width="3.6" />
<line x1="273.80" y1="2148.80" x2="273.80" y2="2168.30" stroke="#000" stroke-width="4.5" />
<line x1="478.50" y1="2148.80" x2="478.50" y2="2168.30" stroke="#000" stroke-width="4.5" />
<line x1="683.70" y1="2148.80" x2="683.70" y2="2168.30" stroke="#000" stroke-width="4.5" />
<path d="M213.53 2146.55V1989.33H257.27V2146.55" fill="none" stroke="#000" stroke-width="6.25" stroke-linejoin="miter"/>
<line x1="235.40" y1="1875.80" x2="235.40" y2="2095.50" stroke="#000" stroke-width="1.8" />
<line x1="221.90" y1="1875.80" x2="248.90" y2="1875.80" stroke="#000" stroke-width="1.8" />
<line x1="221.90" y1="2095.50" x2="248.90" y2="2095.50" stroke="#000" stroke-width="1.8" />
<circle cx="235.30" cy="2075.60" r="9.6" fill="#000"/>
<circle cx="235.30" cy="2114.50" r="9.6" fill="#000"/>
<path d="M290.62 2146.55V2134.12H334.88V2146.55" fill="none" stroke="#fd7f0c" stroke-width="6.25" stroke-linejoin="miter"/>
<rect x="287.00" y="2134.00" width="19.00" height="19.00" fill="#fd7f0c"/>
<rect x="303.30" y="2118.50" width="19.00" height="19.00" fill="#fd7f0c"/>
<rect x="319.10" y="2120.50" width="19.00" height="19.00" fill="#fd7f0c"/>
<path d="M417.73 2146.55V2026.12H462.38V2146.55" fill="none" stroke="#000" stroke-width="6.25" stroke-linejoin="miter"/>
<line x1="440.05" y1="1976.90" x2="440.05" y2="2068.60" stroke="#000" stroke-width="1.8" />
<line x1="426.55" y1="1976.90" x2="453.55" y2="1976.90" stroke="#000" stroke-width="1.8" />
<line x1="426.55" y1="2068.60" x2="453.55" y2="2068.60" stroke="#000" stroke-width="1.8" />
<circle cx="440.00" cy="1931.40" r="9.6" fill="#000"/>
<circle cx="455.80" cy="2062.60" r="9.6" fill="#000"/>
<circle cx="423.90" cy="2074.50" r="9.6" fill="#000"/>
<path d="M494.62 2146.55V2143.62H538.88V2146.55" fill="none" stroke="#fd7f0c" stroke-width="6.25" stroke-linejoin="miter"/>
<rect x="491.30" y="2130.30" width="19.00" height="19.00" fill="#fd7f0c"/>
<rect x="523.70" y="2130.30" width="19.00" height="19.00" fill="#fd7f0c"/>
<path d="M622.73 1786.80V1760.72H667.58V1786.80" fill="none" stroke="#000" stroke-width="6.25" stroke-linejoin="miter"/>
<line x1="622.73" y1="1828.00" x2="622.73" y2="2146.55" stroke="#000" stroke-width="6.25" />
<line x1="667.58" y1="1828.00" x2="667.58" y2="2146.55" stroke="#000" stroke-width="6.25" />
<line x1="645.15" y1="1702.70" x2="645.15" y2="1786.80" stroke="#000" stroke-width="1.8" />
<line x1="631.65" y1="1702.70" x2="658.65" y2="1702.70" stroke="#000" stroke-width="1.8" />
<circle cx="645.20" cy="1786.00" r="9.6" fill="#000"/>
<path d="M699.83 2146.55V2118.72H744.88V2146.55" fill="none" stroke="#fd7f0c" stroke-width="6.25" stroke-linejoin="miter"/>
<line x1="722.35" y1="2090.70" x2="722.35" y2="2141.40" stroke="#fd7f0c" stroke-width="1.8" />
<line x1="708.85" y1="2090.70" x2="735.85" y2="2090.70" stroke="#fd7f0c" stroke-width="1.8" />
<line x1="708.85" y1="2141.40" x2="735.85" y2="2141.40" stroke="#fd7f0c" stroke-width="1.8" />
<rect x="712.50" y="2056.30" width="19.00" height="19.00" fill="#fd7f0c"/>
<rect x="696.70" y="2131.00" width="19.00" height="19.00" fill="#fd7f0c"/>
<rect x="729.20" y="2131.00" width="19.00" height="19.00" fill="#fd7f0c"/>
<text x="160.70" y="2161.00" font-size="35.5" text-anchor="end" font-weight="bold" font-style="normal" >0</text>
<text x="160.70" y="2054.30" font-size="35.5" text-anchor="end" font-weight="bold" font-style="normal" >20</text>
<text x="160.70" y="1946.50" font-size="35.5" text-anchor="end" font-weight="bold" font-style="normal" >40</text>
<text x="160.70" y="1840.60" font-size="35.5" text-anchor="end" font-weight="bold" font-style="normal" >60</text>
<text x="155.20" y="1799.70" font-size="35.5" text-anchor="end" font-weight="bold" font-style="normal" >200</text>
<text x="155.20" y="1763.40" font-size="35.5" text-anchor="end" font-weight="bold" font-style="normal" >300</text>
<text x="155.20" y="1727.70" font-size="35.5" text-anchor="end" font-weight="bold" font-style="normal" >400</text>
<text x="155.20" y="1692.00" font-size="35.5" text-anchor="end" font-weight="bold" font-style="normal" >500</text>
<text x="275.20" y="2204.50" font-size="36" text-anchor="middle" font-weight="bold" font-style="italic" >IL-6</text>
<text x="479.80" y="2204.50" font-size="36" text-anchor="middle" font-weight="bold" font-style="italic" >IFN-β</text>
<text x="685.50" y="2204.50" font-size="36" text-anchor="middle" font-weight="bold" font-style="italic" >CXCL10</text>
<text transform="translate(69.60 2099.00) rotate(-90) scale(0.956 1)" font-size="39.8" font-weight="bold" text-anchor="start">Fold change to Mock</text>
<text transform="translate(433.90 1529.00) scale(0.965 1)" font-size="47.2" text-anchor="middle" font-weight="bold">G-614G</text>
<text transform="translate(434.25 1635.00) scale(0.965 1)" font-size="47.2" text-anchor="middle" font-weight="bold">NPO</text>
<text x="17.00" y="1584.00" font-size="57.5" text-anchor="start" font-weight="bold" font-style="normal" >g</text>
<line x1="1087.30" y1="2148.90" x2="1704.20" y2="2148.90" stroke="#000" stroke-width="4.8" />
<line x1="1107.30" y1="1671.00" x2="1107.30" y2="2148.90" stroke="#000" stroke-width="4.0" />
<line x1="1087.30" y1="1990.50" x2="1107.30" y2="1990.50" stroke="#000" stroke-width="4.2" />
<line x1="1087.30" y1="1831.40" x2="1107.30" y2="1831.40" stroke="#000" stroke-width="4.2" />
<line x1="1087.30" y1="1673.70" x2="1107.30" y2="1673.70" stroke="#000" stroke-width="4.2" />
<line x1="1197.80" y1="2148.90" x2="1197.80" y2="2168.40" stroke="#000" stroke-width="4.5" />
<line x1="1404.20" y1="2148.90" x2="1404.20" y2="2168.40" stroke="#000" stroke-width="4.5" />
<line x1="1611.70" y1="2148.90" x2="1611.70" y2="2168.40" stroke="#000" stroke-width="4.5" />
<path d="M1136.62 2146.65V1941.22H1181.67V2146.65" fill="none" stroke="#000" stroke-width="6.25" stroke-linejoin="miter"/>
<line x1="1159.15" y1="1902.40" x2="1159.15" y2="1973.60" stroke="#000" stroke-width="1.8" />
<line x1="1145.65" y1="1902.40" x2="1172.65" y2="1902.40" stroke="#000" stroke-width="1.8" />
<line x1="1145.65" y1="1973.60" x2="1172.65" y2="1973.60" stroke="#000" stroke-width="1.8" />
<circle cx="1158.90" cy="1877.50" r="9.6" fill="#000"/>
<circle cx="1158.90" cy="1938.10" r="9.6" fill="#000"/>
<circle cx="1158.90" cy="1999.80" r="9.6" fill="#000"/>
<path d="M1214.12 2146.65V2136.12H1258.88V2146.65" fill="none" stroke="#fd7f0c" stroke-width="6.25" stroke-linejoin="miter"/>
<rect x="1210.60" y="2134.00" width="19.00" height="19.00" fill="#fd7f0c"/>
<rect x="1227.30" y="2116.30" width="19.00" height="19.00" fill="#fd7f0c"/>
<rect x="1243.50" y="2130.30" width="19.00" height="19.00" fill="#fd7f0c"/>
<path d="M1343.72 2146.65V2099.03H1388.88V2146.65" fill="none" stroke="#000" stroke-width="6.25" stroke-linejoin="miter"/>
<line x1="1366.30" y1="2088.50" x2="1366.30" y2="2103.00" stroke="#000" stroke-width="1.8" />
<line x1="1352.80" y1="2088.50" x2="1379.80" y2="2088.50" stroke="#000" stroke-width="1.8" />
<line x1="1352.80" y1="2103.00" x2="1379.80" y2="2103.00" stroke="#000" stroke-width="1.8" />
<circle cx="1350.00" cy="2082.90" r="9.6" fill="#000"/>
<circle cx="1382.50" cy="2095.90" r="9.6" fill="#000"/>
<circle cx="1350.00" cy="2108.00" r="9.6" fill="#000"/>
<path d="M1421.62 2146.65V2144.12H1466.38V2146.65" fill="none" stroke="#fd7f0c" stroke-width="6.25" stroke-linejoin="miter"/>
<rect x="1418.20" y="2139.10" width="19.00" height="19.00" fill="#fd7f0c"/>
<rect x="1434.40" y="2123.50" width="19.00" height="19.00" fill="#fd7f0c"/>
<rect x="1450.70" y="2138.30" width="19.00" height="19.00" fill="#fd7f0c"/>
<path d="M1551.22 2146.65V1945.33H1596.38V2146.65" fill="none" stroke="#000" stroke-width="6.25" stroke-linejoin="miter"/>
<line x1="1573.80" y1="1838.00" x2="1573.80" y2="2045.80" stroke="#000" stroke-width="1.8" />
<line x1="1560.30" y1="1838.00" x2="1587.30" y2="1838.00" stroke="#000" stroke-width="1.8" />
<line x1="1560.30" y1="2045.80" x2="1587.30" y2="2045.80" stroke="#000" stroke-width="1.8" />
<circle cx="1573.50" cy="1744.70" r="9.6" fill="#000"/>
<circle cx="1573.50" cy="1983.60" r="9.6" fill="#000"/>
<circle cx="1573.50" cy="2097.20" r="9.6" fill="#000"/>
<path d="M1629.12 2146.65V2076.03H1674.08V2146.65" fill="none" stroke="#fd7f0c" stroke-width="6.25" stroke-linejoin="miter"/>
<line x1="1651.60" y1="2035.80" x2="1651.60" y2="2108.80" stroke="#fd7f0c" stroke-width="1.8" />
<line x1="1638.10" y1="2035.80" x2="1665.10" y2="2035.80" stroke="#fd7f0c" stroke-width="1.8" />
<line x1="1638.10" y1="2108.80" x2="1665.10" y2="2108.80" stroke="#fd7f0c" stroke-width="1.8" />
<rect x="1642.00" y="1991.10" width="19.00" height="19.00" fill="#fd7f0c"/>
<rect x="1642.00" y="2087.20" width="19.00" height="19.00" fill="#fd7f0c"/>
<rect x="1642.00" y="2110.70" width="19.00" height="19.00" fill="#fd7f0c"/>
<text x="1083.80" y="2161.20" font-size="35.5" text-anchor="end" font-weight="bold" font-style="normal" >0</text>
<text x="1083.80" y="2002.80" font-size="35.5" text-anchor="end" font-weight="bold" font-style="normal" >20</text>
<text x="1083.80" y="1843.70" font-size="35.5" text-anchor="end" font-weight="bold" font-style="normal" >40</text>
<text x="1083.80" y="1686.00" font-size="35.5" text-anchor="end" font-weight="bold" font-style="normal" >60</text>
<text x="1199.00" y="2205.00" font-size="36" text-anchor="middle" font-weight="bold" font-style="italic" >IL-6</text>
<text x="1406.00" y="2205.00" font-size="36" text-anchor="middle" font-weight="bold" font-style="italic" >IFN-β</text>
<text x="1614.00" y="2205.00" font-size="36" text-anchor="middle" font-weight="bold" font-style="italic" >CXCL10</text>
<text transform="translate(1018.20 2103.50) rotate(-90) scale(0.971 1)" font-size="39.8" font-weight="bold" text-anchor="start">Fold change to Mock</text>
<text transform="translate(1366.25 1537.00) scale(0.965 1)" font-size="47.2" text-anchor="middle" font-weight="bold">G-614G</text>
<text transform="translate(1366.90 1644.00) scale(0.965 1)" font-size="47.2" text-anchor="middle" font-weight="bold">BO</text>
<text x="1062.00" y="1600.70" font-size="57.5" text-anchor="start" font-weight="bold" font-style="normal" >h</text>
<line x1="1154.80" y1="1829.00" x2="1228.80" y2="1829.00" stroke="#000" stroke-width="1.6" />
<text x="1190.30" y="1829.00" font-size="46" text-anchor="middle" font-weight="normal" font-style="normal" >*</text>
<line x1="1366.00" y1="2047.10" x2="1439.90" y2="2047.10" stroke="#000" stroke-width="1.6" />
<text x="1402.00" y="2046.00" font-size="46" text-anchor="middle" font-weight="normal" font-style="normal" >*</text>
<circle cx="1760.70" cy="903.80" r="9.6" fill="#000"/>
<rect x="1750.75" y="947.35" width="19.50" height="19.50" fill="#fd7f0c"/>
<text transform="translate(1814.4 917.3) scale(0.981 1)" font-size="38.6" font-weight="normal">Non-diseased</text>
<text transform="translate(1814.6 969.6) scale(0.985 1)" font-size="38.6" font-weight="normal">COPD</text>
</svg>
</body></html>
